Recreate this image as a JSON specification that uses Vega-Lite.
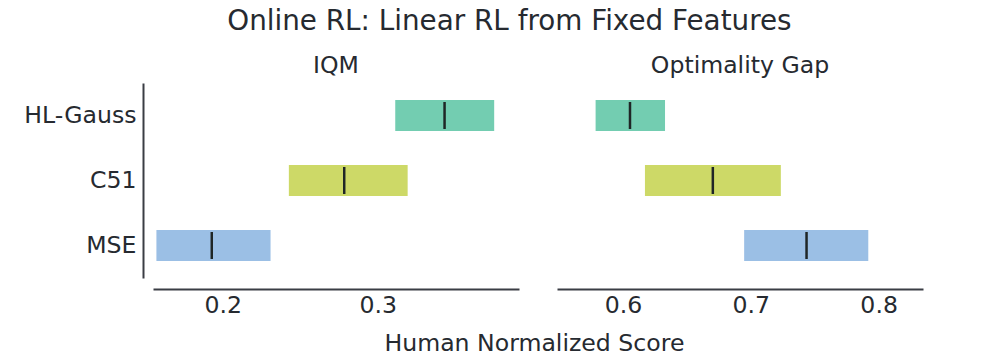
{
  "$schema": "https://vega.github.io/schema/vega-lite/v6.json",
  "padding": {"left": 23, "top": 7, "right": 5, "bottom": 5},
  "title": {"text": "Online RL: Linear RL from Fixed Features", "fontSize": 27.8, "fontWeight": "normal", "font": "DejaVu Sans", "color": "#262a30", "offset": 19, "anchor": "middle", "dx": 36},
  "datasets": {
    "scores": [
      {"method": "HL-Gauss", "metric": "IQM", "lo": 0.3112, "hi": 0.375, "median": 0.343},
      {"method": "C51", "metric": "IQM", "lo": 0.2426, "hi": 0.3192, "median": 0.2783},
      {"method": "MSE", "metric": "IQM", "lo": 0.1572, "hi": 0.2308, "median": 0.1929},
      {"method": "HL-Gauss", "metric": "Optimality Gap", "lo": 0.5786, "hi": 0.6329, "median": 0.6055},
      {"method": "C51", "metric": "Optimality Gap", "lo": 0.6172, "hi": 0.7235, "median": 0.6703},
      {"method": "MSE", "metric": "Optimality Gap", "lo": 0.6948, "hi": 0.7919, "median": 0.7436}
    ]
  },
  "vconcat": [
    {
      "title": {"text": "Human Normalized Score", "orient": "bottom", "fontSize": 23.6, "fontWeight": "normal", "font": "DejaVu Sans", "color": "#262a30", "offset": 15, "anchor": "middle", "dx": 61},
      "spacing": 38,
      "hconcat": [
        {
          "width": 366,
          "height": 195,
          "title": {"text": "IQM", "fontSize": 23.6, "fontWeight": "normal", "offset": 5},
          "data": {"name": "scores"},
          "transform": [{"filter": "datum.metric === 'IQM'"}],
          "encoding": {
            "y": {"field": "method", "type": "nominal", "sort": ["HL-Gauss", "C51", "MSE"], "title": null,
                  "scale": {"paddingInner": 0.52, "paddingOuter": 0.26},
                  "axis": {"offset": 10, "labelPadding": 7, "ticks": false}}
          },
          "layer": [
            {"mark": {"type": "bar"},
             "encoding": {
               "x": {"field": "lo", "type": "quantitative", "title": null,
                     "scale": {"domain": [0.155, 0.391], "nice": false, "zero": false},
                     "axis": {"values": [0.2, 0.3], "format": ".1f", "offset": 11, "ticks": false, "labelPadding": 4, "grid": false}},
               "x2": {"field": "hi"},
               "color": {"field": "method", "type": "nominal", "legend": null,
                         "scale": {"domain": ["HL-Gauss", "C51", "MSE"], "range": ["#73cdb1", "#cdd967", "#9bbfe5"]}}
             }},
            {"mark": {"type": "tick", "size": 27, "thickness": 2.5, "color": "#1f2626", "opacity": 1},
             "encoding": {"x": {"field": "median", "type": "quantitative"}}}
          ]
        },
        {
          "width": 366,
          "height": 195,
          "title": {"text": "Optimality Gap", "fontSize": 23.6, "fontWeight": "normal", "offset": 5},
          "data": {"name": "scores"},
          "transform": [{"filter": "datum.metric === 'Optimality Gap'"}],
          "encoding": {
            "y": {"field": "method", "type": "nominal", "sort": ["HL-Gauss", "C51", "MSE"], "title": null,
                  "scale": {"paddingInner": 0.52, "paddingOuter": 0.26},
                  "axis": null}
          },
          "layer": [
            {"mark": {"type": "bar"},
             "encoding": {
               "x": {"field": "lo", "type": "quantitative", "title": null,
                     "scale": {"domain": [0.5484, 0.8347], "nice": false, "zero": false},
                     "axis": {"values": [0.6, 0.7, 0.8], "format": ".1f", "offset": 11, "ticks": false, "labelPadding": 4, "grid": false}},
               "x2": {"field": "hi"},
               "color": {"field": "method", "type": "nominal", "legend": null,
                         "scale": {"domain": ["HL-Gauss", "C51", "MSE"], "range": ["#73cdb1", "#cdd967", "#9bbfe5"]}}
             }},
            {"mark": {"type": "tick", "size": 27, "thickness": 2.5, "color": "#1f2626", "opacity": 1},
             "encoding": {"x": {"field": "median", "type": "quantitative"}}}
          ]
        }
      ],
      "resolve": {"scale": {"x": "independent", "y": "independent", "color": "shared"}}
    }
  ],
  "config": {
    "font": "DejaVu Sans",
    "view": {"stroke": null},
    "bar": {"opacity": 1},
    "title": {"color": "#262a30", "fontWeight": "normal", "font": "DejaVu Sans"},
    "axis": {
      "labelFont": "DejaVu Sans",
      "labelFontSize": 23.6,
      "labelColor": "#262a30",
      "domainColor": "#3a3d44",
      "domainWidth": 2,
      "grid": false
    }
  }
}
